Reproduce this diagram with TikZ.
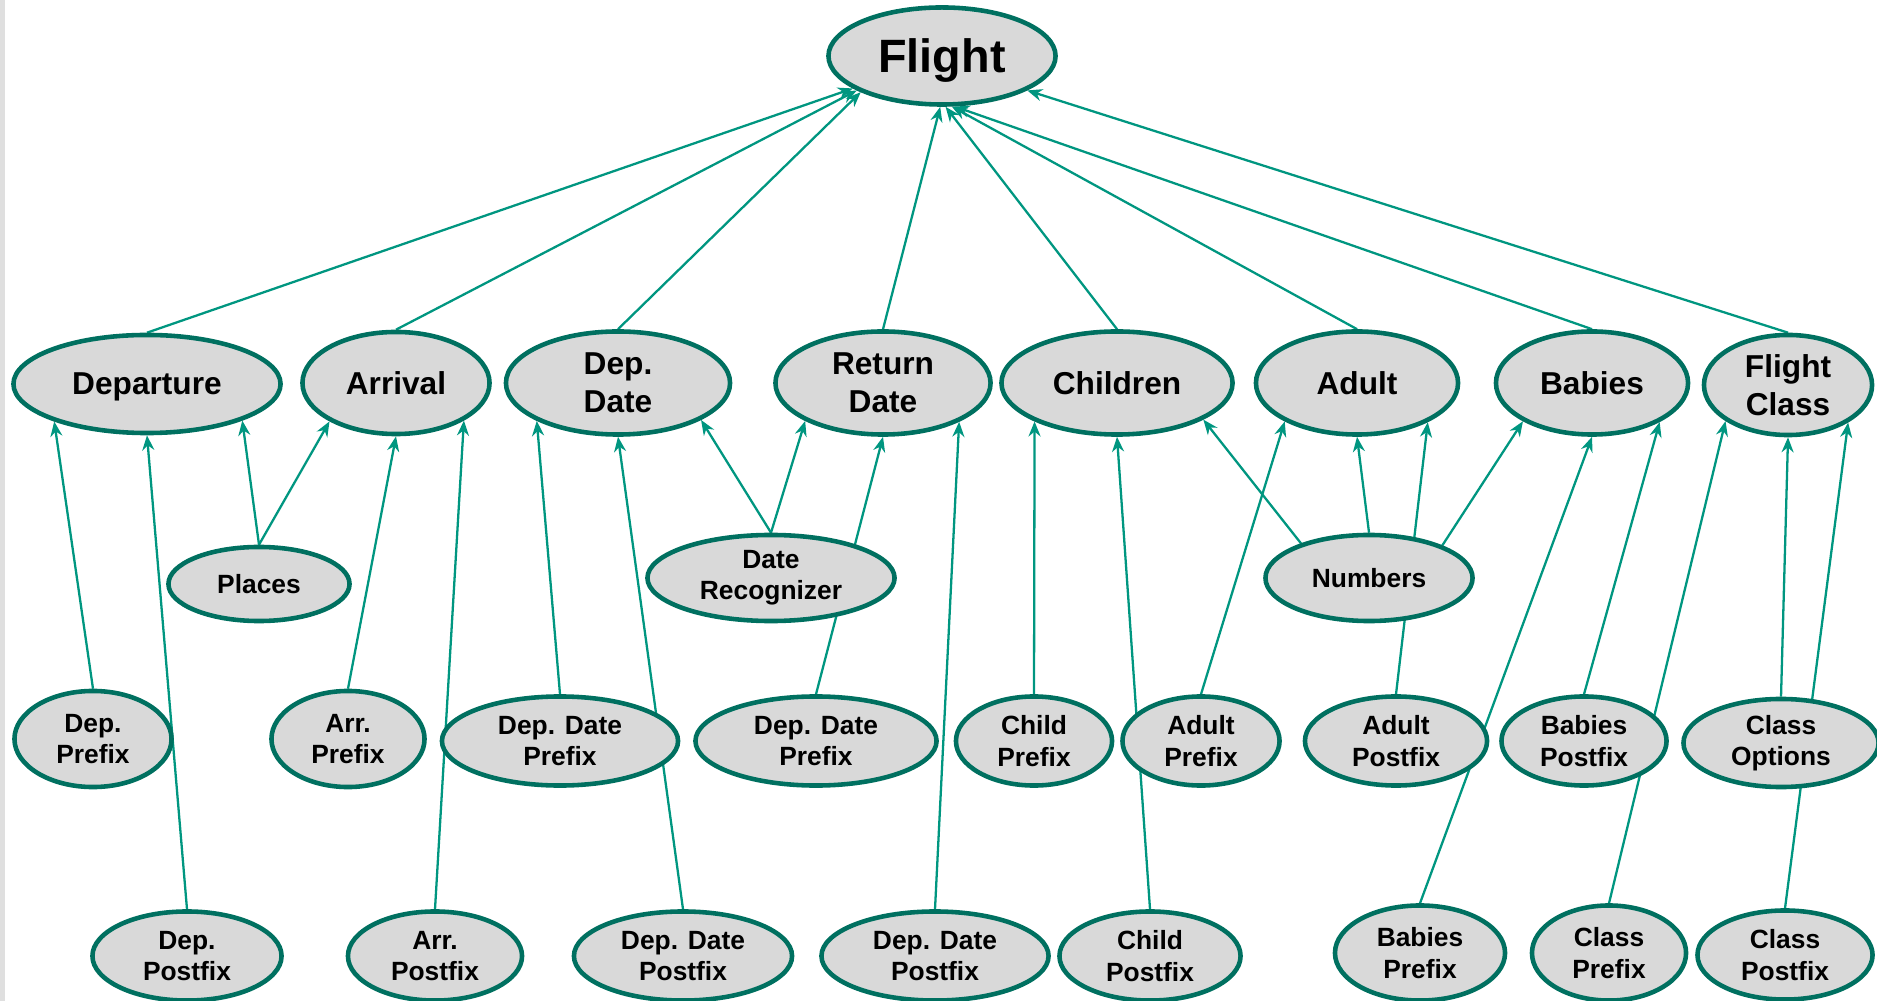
\documentclass[tikz,border=0pt]{standalone}
\usepackage{fontspec}
\setmainfont{Liberation Sans}
\usetikzlibrary{arrows.meta, shapes.geometric, backgrounds}
\definecolor{borda}{RGB}{0,112,96}
\definecolor{linha}{RGB}{0,150,128}
\definecolor{fundo}{RGB}{217,217,217}
\tikzset{
  bubble/.style={
    ellipse, draw=borda, line width=1.3pt, fill=fundo,
    inner sep=0pt, align=center
  },
  rootbubble/.style={bubble, font=\fontsize{13.3}{16}\selectfont\bfseries},
  fieldbubble/.style={bubble, font=\fontsize{9}{10.8}\selectfont\bfseries},
  partbubble/.style={bubble, font=\fontsize{7.5}{8.9}\selectfont\bfseries},
  dims/.style 2 args={minimum width=#1cm, minimum height=#2cm},
  link/.style={-{Stealth[length=0.15cm, width=0.12cm]}, line width=0.65pt, linha},
}

\begin{document}
\begin{tikzpicture}[x=0.01cm, y=-0.01cm]

\useasboundingbox (0,0) rectangle (1877,1001);
\fill[gray!25] (0,0) rectangle (5,1001);

% top
\node[rootbubble, dims={2.27}{0.97}, text depth=0pt] (flight) at (942,56) {Flight};

% fields
\node[fieldbubble, dims={2.67}{0.98}, text depth=0pt] (departure) at (147,384) {Departure};
\node[fieldbubble, dims={1.87}{1.02}] (arrival) at (396,383) {Arrival};
\node[fieldbubble, dims={2.24}{1.03}] (depdate) at (618,383) {Dep.\\Date};
\node[fieldbubble, dims={2.15}{1.03}] (retdate) at (883,383) {Return\\Date};
\node[fieldbubble, dims={2.31}{1.03}] (children) at (1117,383) {Children};
\node[fieldbubble, dims={2.02}{1.03}] (adult) at (1357,383) {Adult};
\node[fieldbubble, dims={1.92}{1.03}] (babies) at (1592,383) {Babies};
\node[fieldbubble, dims={1.68}{1.00}] (fclass) at (1788,385) {Flight\\Class};

% shared recognizers
\node[partbubble, dims={1.81}{0.74}] (places) at (259,584) {Places};
\node[partbubble, dims={2.47}{0.86}] (daterec) at (771,578) {Date\\Recognizer};
\node[partbubble, dims={2.07}{0.86}] (numbers) at (1369,578) {Numbers};

% prefixes
\node[partbubble, dims={1.57}{0.96}] (depprefix) at (93,739) {Dep.\\Prefix};
\node[partbubble, dims={1.53}{0.96}] (arrprefix) at (348,739) {Arr.\\Prefix};
\node[partbubble, dims={2.36}{0.89}] (ddprefixa) at (560,741) {Dep. Date\\Prefix};
\node[partbubble, dims={2.41}{0.89}] (ddprefixb) at (816,741) {Dep. Date\\Prefix};
\node[partbubble, dims={1.56}{0.89}] (childprefix) at (1034,741) {Child\\Prefix};
\node[partbubble, dims={1.57}{0.89}] (adultprefix) at (1201,741) {Adult\\Prefix};
\node[partbubble, dims={1.82}{0.89}] (adultpostfix) at (1396,741) {Adult\\Postfix};
\node[partbubble, dims={1.65}{0.89}] (babiespostfix) at (1584,741) {Babies\\Postfix};
\node[partbubble, dims={1.95}{0.88}] (classoptions) at (1781,743) {Class\\Options};

% postfixes
\node[partbubble, dims={1.89}{0.89}] (deppostfix) at (187,956) {Dep.\\Postfix};
\node[partbubble, dims={1.74}{0.89}] (arrpostfix) at (435,956) {Arr.\\Postfix};
\node[partbubble, dims={2.18}{0.89}] (ddpostfixa) at (683,956) {Dep. Date\\Postfix};
\node[partbubble, dims={2.27}{0.89}] (ddpostfixb) at (935,956) {Dep. Date\\Postfix};
\node[partbubble, dims={1.81}{0.89}] (childpostfix) at (1150,956) {Child\\Postfix};
\node[partbubble, dims={1.70}{0.95}] (babiesprefix) at (1420,953) {Babies\\Prefix};
\node[partbubble, dims={1.54}{0.95}] (classprefix) at (1609,953) {Class\\Prefix};
\node[partbubble, dims={1.75}{0.89}] (classpostfix) at (1785,955) {Class\\Postfix};

\begin{scope}[on background layer]
% fields to flight
\draw[link] (departure.north) -- (flight.200);
\draw[link] (arrival.north) -- (flight.202);
\draw[link] (depdate.north) -- (flight.204);
\draw[link] (retdate.north) -- (flight.268);
\draw[link] (children.north) -- (flight.274);
\draw[link] (adult.north) -- (flight.281);
\draw[link] (babies.north) -- (flight.284);
\draw[link] (fclass.north) -- (flight.338);

% departure / arrival
\draw[link] (depprefix.north) -- (departure.202);
\draw[link] (deppostfix.north) -- (departure.south);
\draw[link] (places.north) -- (departure.339);
\draw[link] (places.north) -- (arrival.210);
\draw[link] (arrprefix.north) -- (arrival.south);
\draw[link] (arrpostfix.north) -- (arrival.331);

% dates
\draw[link] (ddprefixa.north) -- (depdate.205);
\draw[link] (ddpostfixa.north) -- (depdate.south);
\draw[link] (daterec.north) -- (depdate.336);
\draw[link] (daterec.north) -- (retdate.206);
\draw[link] (ddprefixb.north) -- (retdate.south);
\draw[link] (ddpostfixb.north) -- (retdate.333);

% passengers
\draw[link] (childprefix.north) -- (children.205);
\draw[link] (childpostfix.north) -- (children.south);
\draw[link] (numbers.153) -- (children.337);
\draw[link] (adultprefix.north) -- (adult.208);
\draw[link] (numbers.north) -- (adult.south);
\draw[link] (adultpostfix.north) -- (adult.331);
\draw[link] (numbers.24) -- (babies.209);
\draw[link] (babiesprefix.north) -- (babies.south);
\draw[link] (babiespostfix.north) -- (babies.330);

% class
\draw[link] (classprefix.north) -- (fclass.210);
\draw[link] (classoptions.north) -- (fclass.south);
\draw[link] (classpostfix.north) -- (fclass.328);
\end{scope}

\end{tikzpicture}
\end{document}
